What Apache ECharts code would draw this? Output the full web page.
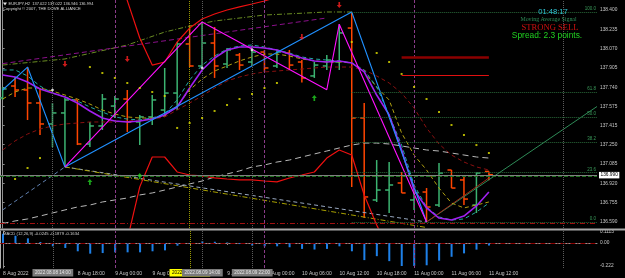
<!DOCTYPE html>
<html><head><meta charset="utf-8">
<script src="https://cdn.jsdelivr.net/npm/echarts@6/dist/echarts.min.js"></script>
<style>html,body{margin:0;padding:0;background:#000;}#c{width:625px;height:278px;}</style>
</head><body><div id="c"></div>
<script>
// ---------------- DATA ----------------
const symbolName = 'EURJPY,H2';
const timeTickBars = [0, 3, 6, 9, 12, 15, 18, 21, 24, 27, 30, 33, 36, 39];
const timeTickText = ['8 Aug 2022','8 Aug 12:00','8 Aug 18:00','9 Aug 00:00','9 Aug 06:00','9 Aug 12:00','9 Aug 18:00','10 Aug 00:00','10 Aug 06:00','10 Aug 12:00','10 Aug 18:00','11 Aug 00:00','11 Aug 06:00','11 Aug 12:00'];
const priceTicks = [138.400,138.235,138.070,137.905,137.740,137.575,137.415,137.250,137.085,136.920,136.755,136.590];
const macdTicks = [0.1113, 0, -0.222];
const macdTickText = ['0.1113','0.00','-0.222'];

const barOpen  = [137.649,137.751,137.717,137.606,137.427,137.521,137.632,137.256,137.410,137.580,137.640,137.444,137.487,137.546,137.691,138.110,137.922,138.118,137.939,138.016,137.956,138.041,137.922,138.033,137.956,137.837,137.922,137.956,138.246,137.478,136.778,136.863,136.923,136.778,136.846,136.735,137.034,136.949,136.735,137.022];
const barHigh  = [137.743,137.828,137.913,137.734,137.606,137.649,137.632,137.444,137.683,137.666,137.717,137.504,137.674,137.905,138.127,138.272,138.298,138.255,138.076,138.033,138.093,138.059,138.059,138.059,137.973,137.956,138.016,138.279,138.383,137.606,137.119,137.102,137.017,136.906,136.880,137.094,137.034,136.974,137.017,137.022];
const barLow   = [137.632,137.657,137.461,137.333,137.230,137.060,137.247,137.230,137.376,137.478,137.359,137.247,137.418,137.504,137.546,137.913,137.905,137.820,137.905,137.888,137.922,137.871,137.905,137.888,137.782,137.820,137.888,137.888,136.889,136.624,136.761,136.667,136.838,136.693,136.590,136.718,136.880,136.735,136.667,136.946];
const barClose = [137.726,137.717,137.606,137.427,137.521,137.632,137.256,137.410,137.640,137.640,137.444,137.487,137.632,137.691,138.110,137.922,138.118,137.922,138.059,137.930,138.041,137.905,138.041,137.930,137.820,137.930,137.973,138.204,137.478,136.804,136.863,136.906,136.838,136.838,136.718,137.008,136.880,136.786,137.008,136.994];

const maPurple = [137.845,137.828,137.785,137.726,137.691,137.657,137.606,137.538,137.478,137.452,137.444,137.452,137.469,137.504,137.572,137.734,137.888,137.990,138.059,138.084,138.084,138.076,138.059,138.024,137.990,137.965,137.956,137.965,137.948,137.871,137.674,137.504,137.205,136.863,136.710,136.624,136.607,136.641,136.727,136.846];
const maTeal   = [137.888,137.888,137.837,137.751,137.691,137.657,137.623,137.572,137.529,137.487,137.469,137.461,137.478,137.512,137.632,137.802,137.930,138.007,138.067,138.093,138.101,138.084,138.059,138.033,137.999,137.982,137.973,137.965,137.948,137.888,137.743,137.504,137.247,136.906,136.718,136.633,136.607,136.616,136.675,136.752];
const maOlive  = [137.640,137.700,137.734,137.734,137.708,137.674,137.640,137.597,137.546,137.512,137.487,137.478,137.478,137.495,137.580,137.717,137.811,137.879,137.922,137.965,137.999,138.024,138.024,138.007,137.982,137.965,137.956,137.956,137.948,137.871,137.743,137.632,137.350,137.162,137.034,136.880,136.752,136.710,136.735,136.761];
const maDarkRed= [137.205,137.282,137.341,137.384,137.410,137.427,137.435,137.444,137.444,137.444,137.452,137.461,137.469,137.487,137.546,137.606,137.666,137.734,137.794,137.828,137.854,137.871,137.879,137.888,137.896,137.905,137.913,137.913,137.913,137.888,137.837,137.777,137.691,137.563,137.393,137.256,137.162,137.102,137.060,137.034];
const maGray   = [136.577,136.599,136.616,136.641,136.667,136.693,136.718,136.735,136.761,136.778,136.795,136.821,136.838,136.863,136.889,136.915,136.940,136.974,137.000,137.026,137.060,137.077,137.102,137.119,137.145,137.171,137.196,137.222,137.247,137.264,137.264,137.256,137.239,137.222,137.205,137.196,137.179,137.162,137.145,137.136];
const upperBandStart = 9;
const upperBand = [138.800,138.480,138.161,137.930,137.956,138.127,138.246,138.323,138.366,138.400,138.426,138.451,138.477,138.511,138.550];
const lowerBandStart = 10;
const lowerBand = [136.436,136.890,137.145,137.145,137.017,136.991,136.983,136.966,136.957,136.949,136.949,136.940,136.932,136.966,136.991,137.017,137.136,137.205,137.162,136.821,136.564,136.351];

const zigzagBlue    = [[0,137.717],[2,137.913],[5,137.060],[28,138.383],[34,136.590]];
const zigzagMagenta = [[5,137.060],[16,138.298],[26,137.720],[27,138.279],[34,136.590]];
const olivePath     = [[0,137.930],[5,137.982],[10,138.101],[13,138.212],[15,138.263],[17,138.306],[21,138.357],[26,138.383],[28,138.383]];
const purplePath    = [[0,137.942],[26,138.332]];
const tradeBlueIn   = [[0,136.693],[5,137.060]];
const tradeGrayOut  = [[5,137.060],[34,136.590]];
const tradeYellow   = [[5,137.060],[34,136.543]];
const greenTrend    = [[34,136.590],[47.67,137.576]];
const brownTrend    = [[34,136.590],[39,136.966]];

const sarDots = [[1,136.957],[2,137.051],[3,137.136],[7,137.913],[8,137.862],[9,137.820],[10,137.777],[11,137.734],[12,137.700],[13,137.666],[14,137.393],[15,137.435],[16,137.478],[17,137.538],[18,137.589],[19,137.640],[20,137.683],[21,137.734],[22,137.777],[28,138.127],[30,138.033],[31,137.956],[32,137.854],[33,137.743],[34,137.640],[35,137.529],[36,137.418],[37,137.333],[38,137.247],[39,137.179]];
const sellArrows = [[5,137.939],[10,137.982],[24,138.170],[27,138.443]];
const buyArrows  = [[7,136.932],[11,136.983],[25,137.649]];
const whiteMarks = [[4,137.717],[16,137.905],[20,138.059]];

const fibLevels = [138.383, 137.698, 137.487, 137.275, 137.013, 136.590];
const fibNames  = ['100.0','61.8','50.0','38.2','23.6','0.0'];
const fibStartBar = 28;
const bidPrice = 136.994;
const orderPrice = 136.977;
const tpPrice = 136.581;
const redLevels = [137.999, 137.845];
const redLevelBars = [32, 39];

const vLineBars  = [4, 9, 15, 16, 20, 21, 33, 45];
const vLineKinds = ['user','day','yellow','user','user','day','day','user'];
const vLineText  = ['2022.08.08 14:00','','2022.08.09 12:00','2022.08.09 14:00','2022.08.09 22:00','','',''];

const boxNotes = [[14.95,138.306,'138.299','gray'],[26.94,138.383,'138.383','magenta'],[25.93,138.276,'138.279','gray'],[24.97,137.708,'137.782','gray'],[32.95,136.577,'136.590','green'],[41.57,136.991,'136.998','cyan']];
const plainNotes = [[11.54,137.495,'137.540','gray'],[23.65,137.922,'137.946','gray'],[35.6,136.752,'136.788','gray'],[29.0,137.999,'MA 1','green'],[29.0,137.820,'MA 2','green']];
const leftNotes = [[0.27,137.026,'#35178855 sell 18.08'],[0.2,136.603,'#35178855 tp']];

const macdHist = [0.09,0.07,0.045,0.01,-0.032,-0.048,-0.08,-0.103,-0.097,-0.09,-0.09,-0.09,-0.08,-0.071,-0.026,-0.005,0.016,0.012,0.005,-0.01,-0.025,-0.032,-0.032,-0.041,-0.057,-0.063,-0.057,-0.032,-0.08,-0.165,-0.127,-0.175,-0.222,-0.222,-0.215,-0.17,-0.133,-0.10,-0.064,-0.0245];
const macdText = 'MACD (12,26,9) -0.0245 -0.1879 -0.1634';
const clockText = '01:48:17';
const signalTitle = 'Moving Average Signal';
const signalText = 'STRONG SELL';
const spreadText = 'Spread: 2.3 points.';
const copyrightText = 'Copyright \u00a9 2007, THE DOVE ALLIANCE';

// ---------------- CHART ----------------
const UP = '#3cb371', DOWN = '#ff4500';
const SANS = 'Liberation Sans, Arial, sans-serif';
const SERIF = 'Liberation Serif, Times New Roman, serif';
const xMin = -0.2085, xMax = 47.67;
const pairs = a => a.map((v, i) => [i, v]);
const offPairs = (a, s) => a.map((v, i) => [i + s, v]);

function ln(data, color, type, width, z) {
  return {type:'line', xAxisIndex:0, yAxisIndex:0, data, symbol:'none', silent:true,
    lineStyle:{color, type, width}, z: z || 3, clip:true};
}

const last = barOpen.length - 1;
const headerText = symbolName + '  ' + [barOpen[last], barHigh[last], barLow[last], barClose[last]].map(v => v.toFixed(3)).join(' ');

const boxStyles = {
  gray:{border:'#8a8a8a', color:'#c8c8c8', size:4.4},
  magenta:{border:'#c020c0', color:'#e0a0e0', size:4.4},
  green:{border:'#20a020', color:'#40d040', size:4.4},
  cyan:{border:'#20c8c8', color:'#40e0e0', size:6.3}
};
const noteColors = {gray:'#c0c0c0', green:'#3c9c5c'};

const vStyles = {
  user:{color:'#5c5c5c', type:'dotted'},
  day:{color:'#8a3c8a', type:[3,2]},
  yellow:{color:'#9a9a00', type:'dotted'}
};

const vLinesMain = vLineBars.map((b, i) => ({xAxis:b, lineStyle:{color:vStyles[vLineKinds[i]].color, type:vStyles[vLineKinds[i]].type, width:1}}));
const vLinesMacd = vLineBars.map((b, i) => ({
  xAxis:b,
  lineStyle:{color:vStyles[vLineKinds[i]].color, type:vStyles[vLineKinds[i]].type, width:1},
  label: vLineText[i] ? {show:true, position:'start', distance:1, formatter:vLineText[i], fontSize:4.6, fontFamily:SANS,
    color: vLineKinds[i] === 'yellow' ? '#000' : '#e8e8e8',
    backgroundColor: vLineKinds[i] === 'yellow' ? '#ffff00' : '#7a7a7a', padding:[1.5,2.5,1,2.5]} : {show:false}
}));

const option = {
  backgroundColor:'#000',
  animation:false,
  grid:[
    {left:0, top:0, width:597, height:228},
    {left:0, top:231, width:597, height:37}
  ],
  xAxis:[
    {gridIndex:0, type:'value', min:xMin, max:xMax, show:false},
    {gridIndex:1, type:'value', min:xMin, max:xMax,
      axisLine:{show:true, lineStyle:{color:'#909090'}},
      axisTick:{show:true, length:2, customValues:timeTickBars, lineStyle:{color:'#909090'}},
      splitLine:{show:false},
      axisLabel:{customValues:timeTickBars, align:'left', margin:3, fontSize:5, fontFamily:SANS, color:'#c8c8c8',
        formatter: v => { const k = timeTickBars.indexOf(Math.round(v)); return k >= 0 ? timeTickText[k] : ''; }}}
  ],
  yAxis:[
    {gridIndex:0, type:'value', position:'right', min:136.5388, max:138.4854,
      axisLine:{show:true, lineStyle:{color:'#909090'}},
      axisTick:{show:true, length:2, customValues:priceTicks, lineStyle:{color:'#909090'}},
      splitLine:{show:false},
      axisLabel:{customValues:priceTicks, margin:3, fontSize:4.8, fontFamily:SANS, color:'#c8c8c8', formatter: v => v.toFixed(3)}},
    {gridIndex:0, type:'value', position:'left', min:136.5388, max:138.4854,
      axisLine:{show:true, lineStyle:{color:'#b0b0b0'}}, axisTick:{show:false}, axisLabel:{show:false}, splitLine:{show:false}},
    {gridIndex:1, type:'value', position:'right', min:-0.2413, max:0.1158,
      axisLine:{show:true, lineStyle:{color:'#909090'}},
      axisTick:{show:true, length:2, customValues:macdTicks, lineStyle:{color:'#909090'}},
      splitLine:{show:false},
      axisLabel:{customValues:macdTicks, margin:3, fontSize:4.8, fontFamily:SANS, color:'#c8c8c8',
        formatter: v => { let k = 0; macdTicks.forEach((t, i) => { if (Math.abs(t - v) < Math.abs(macdTicks[k] - v)) k = i; }); return macdTickText[k]; }}},
    {gridIndex:1, type:'value', position:'left', min:-0.2413, max:0.1158,
      axisLine:{show:true, lineStyle:{color:'#b0b0b0'}}, axisTick:{show:false}, axisLabel:{show:false}, splitLine:{show:false}}
  ],
  graphic:[
    {type:'rect', shape:{x:0, y:228.5, width:625, height:2}, style:{fill:'#a8a8a8'}, z:50},
    {type:'polygon', shape:{points:[[3,2.5],[7,2.5],[5,5.5]]}, style:{fill:'#e0e0e0'}, z:50},
    {type:'text', style:{text:headerText, x:8.5, y:4, fill:'#d8d8d8', font:'4px ' + SANS, verticalAlign:'middle', textVerticalAlign:'middle'}, z:50},
    {type:'text', style:{text:copyrightText, x:3, y:9.3, fill:'#d8d8d8', font:'4.2px ' + SANS, verticalAlign:'middle', textVerticalAlign:'middle'}, z:50},
    {type:'text', style:{text:clockText, x:553, y:12.3, fill:'#30c8d8', font:'7.6px ' + SANS, align:'center', textAlign:'center', verticalAlign:'middle', textVerticalAlign:'middle'}, z:50},
    {type:'text', style:{text:signalTitle, x:548.5, y:19.5, fill:'#2e8b57', font:'5.9px ' + SERIF, align:'center', textAlign:'center', verticalAlign:'middle', textVerticalAlign:'middle'}, z:50},
    {type:'text', style:{text:signalText, x:550, y:27.8, fill:'#d01010', font:'8.6px ' + SERIF, align:'center', textAlign:'center', verticalAlign:'middle', textVerticalAlign:'middle'}, z:50},
    {type:'text', style:{text:spreadText, x:547, y:35.2, fill:'#20d020', font:'8.4px ' + SANS, align:'center', textAlign:'center', verticalAlign:'middle', textVerticalAlign:'middle'}, z:50},
    {type:'text', style:{text:macdText, x:3, y:234.3, fill:'#d0d0d0', font:'4.2px ' + SANS, verticalAlign:'middle', textVerticalAlign:'middle'}, z:50}
  ],
  series:[
    // reference / level lines
    {type:'line', xAxisIndex:0, yAxisIndex:0, data:[], symbol:'none', silent:true, z:1,
      markLine:{silent:true, symbol:['none','none'], animation:false, label:{show:false},
        data: vLinesMain.concat([
          {yAxis:orderPrice, lineStyle:{color:'#1c701c', type:[4,2], width:1}},
          {yAxis:tpPrice, lineStyle:{color:'#a01010', type:[5,2,1,2], width:1}},
          [{coord:[redLevelBars[0], redLevels[0]], lineStyle:{color:'#8b0000', type:'solid', width:2.5}}, {coord:[redLevelBars[1], redLevels[0]]}],
          [{coord:[redLevelBars[0], redLevels[1]], lineStyle:{color:'#e01010', type:'solid', width:1.2}}, {coord:[redLevelBars[1], redLevels[1]]}]
        ]).concat(fibLevels.map((lv, i) => [
          {coord:[fibStartBar, lv], name:fibNames[i], lineStyle:{color:'#2a6a3a', type:'dotted', width:1},
            label:{show:true, position:'insideEndTop', distance:[1,0.5], formatter:'{b}', fontSize:4.5, fontFamily:SANS, color:'#3a9a5a'}},
          {coord:[xMax, lv]}
        ]))
      }},
    {type:'line', xAxisIndex:0, yAxisIndex:0, data:[], symbol:'none', silent:true, z:6,
      markLine:{silent:true, symbol:['none','none'], animation:false,
        data:[{yAxis:bidPrice, lineStyle:{color:'#808080', type:'solid', width:1},
          label:{show:true, position:'end', distance:2, formatter: p => p.value.toFixed(3), fontSize:4.8, fontFamily:SANS,
            color:'#000', backgroundColor:'#ffffff', padding:[1,1.5,0.5,1.5]}}]}},
    // trend / trade lines
    ln(tradeBlueIn, '#6080b0', [4,3], 1),
    ln(tradeGrayOut, '#98a8c0', [4,3], 1),
    ln(tradeYellow, '#a8a000', [5,2,1,2], 1),
    ln(olivePath, '#6b8e23', [5,2,1,2], 1),
    ln(purplePath, '#8b108b', [5,3], 1),
    ln(greenTrend, '#2e8b57', 'solid', 1),
    ln(brownTrend, '#a02818', 'solid', 1),
    // moving averages
    ln(pairs(maGray), '#b8b8b8', [6,4], 1),
    ln(pairs(maDarkRed), '#8b1010', [4,3], 1),
    ln(pairs(maOlive), '#b0a010', [4,3], 1),
    ln(pairs(maTeal), '#20a8a0', [4,3], 1),
    ln(pairs(maPurple), '#a020f0', 'solid', 1.6, 4),
    ln(offPairs(upperBand, upperBandStart), '#ee1010', 'solid', 1.2),
    ln(offPairs(lowerBand, lowerBandStart), '#ee1010', 'solid', 1.2),
    // zigzags
    ln(zigzagBlue, '#2090ff', 'solid', 1.1, 4),
    ln(zigzagMagenta, '#ff10ff', 'solid', 1.1, 4),
    // OHLC bars
    {type:'custom', xAxisIndex:0, yAxisIndex:0, z:2, silent:true,
      data: barOpen.map((o, i) => [i, o, barHigh[i], barLow[i], barClose[i]]),
      encode:{x:0, y:[1,2,3,4]},
      renderItem(params, api) {
        const i = api.value(0);
        const o = api.coord([i, api.value(1)]);
        const h = api.coord([i, api.value(2)]);
        const l = api.coord([i, api.value(3)]);
        const c = api.coord([i, api.value(4)]);
        const col = api.value(4) >= api.value(1) ? UP : DOWN;
        const st = {stroke:col, lineWidth:1.5};
        return {type:'group', children:[
          {type:'line', shape:{x1:h[0], y1:h[1], x2:l[0], y2:l[1]}, style:st},
          {type:'line', shape:{x1:o[0]-4, y1:o[1], x2:o[0], y2:o[1]}, style:st},
          {type:'line', shape:{x1:c[0], y1:c[1], x2:c[0]+4, y2:c[1]}, style:st}
        ]};
      }},
    // SAR dots, arrows, marks
    {type:'scatter', xAxisIndex:0, yAxisIndex:0, data:sarDots, symbol:'rect', symbolSize:2, itemStyle:{color:'#dede00'}, silent:true, z:5},
    {type:'scatter', xAxisIndex:0, yAxisIndex:0, data:sellArrows, symbol:'path://M2,0 L4,0 L4,3 L6,3 L3,6 L0,3 L2,3 Z', symbolSize:[5,6], itemStyle:{color:'#ff2020'}, silent:true, z:6},
    {type:'scatter', xAxisIndex:0, yAxisIndex:0, data:buyArrows, symbol:'path://M3,0 L6,3 L4,3 L4,6 L2,6 L2,3 L0,3 Z', symbolSize:[5,6], itemStyle:{color:'#22d022'}, silent:true, z:6},
    {type:'scatter', xAxisIndex:0, yAxisIndex:0, data:whiteMarks, symbol:'diamond', symbolSize:3.5, itemStyle:{color:'#ffffff'}, silent:true, z:6},
    // labels
    {type:'scatter', xAxisIndex:0, yAxisIndex:0, symbol:'none', silent:true, z:8,
      data: boxNotes.map(d => {
        const s = boxStyles[d[3]];
        return {value:[d[0], d[1]], label:{show:true, position:'inside', formatter:d[2], fontSize:s.size, fontFamily:SANS, color:s.color,
          backgroundColor:'#000', borderColor:s.border, borderWidth:0.8, padding:[1,1.5,0.5,1.5]}};
      })},
    {type:'scatter', xAxisIndex:0, yAxisIndex:0, symbol:'none', silent:true, z:8,
      data: plainNotes.map(d => ({value:[d[0], d[1]], label:{show:true, position:'inside', formatter:d[2], fontSize:4.4, fontFamily:SANS, color:noteColors[d[3]]}}))},
    {type:'scatter', xAxisIndex:0, yAxisIndex:0, symbol:'none', silent:true, z:8,
      data: leftNotes.map(d => ({value:[d[0], d[1]], label:{show:true, position:'inside', align:'left', formatter:d[2], fontSize:4.3, fontFamily:SANS, color:'#c8c8c8'}}))},
    // MACD
    {type:'bar', xAxisIndex:1, yAxisIndex:2, data:pairs(macdHist), barWidth:2, itemStyle:{color:'#1e80e8'}, silent:true, z:3,
      markLine:{silent:true, symbol:['none','none'], animation:false, label:{show:false},
        data:[{yAxis:0, lineStyle:{color:'#8b0000', type:[5,2,1,2], width:1}}].concat(vLinesMacd)}}
  ]
};
const chart = echarts.init(document.getElementById('c'), null, {renderer:'canvas', width:625, height:278});
chart.setOption(option);
</script>
</body></html>
